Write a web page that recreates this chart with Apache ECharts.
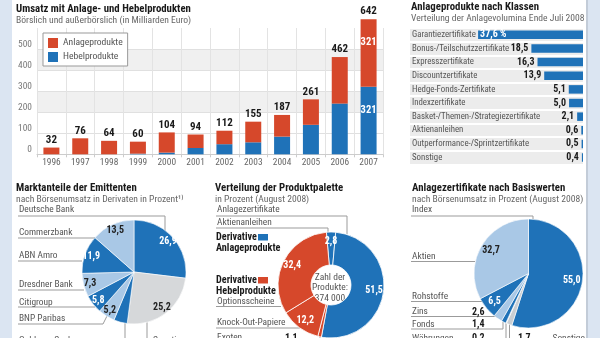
<!DOCTYPE html>
<html><head><meta charset="utf-8">
<script src="https://cdn.jsdelivr.net/npm/echarts@6/dist/echarts.min.js"></script>
<style>html,body{margin:0;padding:0;background:#fff}#c{width:600px;height:338px}</style>
</head><body><div id="c"></div>
<script>
// ---------- data ----------
const years = ['1996','1997','1998','1999','2000','2001','2002','2003','2004','2005','2006','2007'];
const totalVolume  = [32, 76, 64, 60, 104, 94, 112, 155, 187, 261, 462, 642];
const hebelVolume  = [0, 0, 0, 3, 8, 30, 48, 57, 84, 140, 241, 321];
const anlageVolume = [32, 76, 64, 57, 96, 64, 64, 98, 103, 121, 221, 321];
const yTicks = [0, 100, 200, 300, 400, 500];

const classNames = ['Garantiezertifikate','Bonus-/Teilschutzzertifikate','Expresszertifikate','Discountzertifikate',
  'Hedge-Fonds-Zertifikate','Indexzertifikate','Basket-/Themen-/Strategiezertifikate','Aktienanleihen',
  'Outperformance-/Sprintzertifikate','Sonstige'];
const classValues = [37.6, 18.5, 16.3, 13.9, 5.1, 5.0, 2.1, 0.6, 0.5, 0.4];

const issuerNames  = ['Deutsche Bank','Sonstige','Goldman Sachs','BNP Paribas','Citigroup','Dresdner Bank','ABN Amro','Commerzbank'];
const issuerShares = [26.9, 25.2, 4.2, 5.2, 5.8, 7.3, 11.9, 13.5];

const productNames  = ['Aktienanleihen','Anlagezertifikate','Exoten','Knock-Out-Papiere','Optionsscheine'];
const productShares = [2.8, 51.5, 1.1, 12.2, 32.4];
const productCount = '374 000';

const underlyingNames  = ['Index','Sonstige','Währungen','Fonds','Zins','Rohstoffe','Aktien'];
const underlyingShares = [55.0, 1.7, 0.2, 1.4, 2.6, 6.5, 32.7];

// ---------- style ----------
const F = "'Roboto Condensed','Open Sans Condensed',sans-serif";
const BLUE = '#1f72b8', LIGHT = '#a9c8e6', GRAY = '#d6d8da', RED = '#d6482b', LINE = '#9b9b9b';
const TXT = '#555', FS = 9.4;
const fmt = v => v.toFixed(1).replace('.', ',');

const issuerColors = [BLUE, GRAY, BLUE, LIGHT, BLUE, LIGHT, BLUE, LIGHT];
const issuerLabelColors = ['#fff', '#222', '#fff', '#222', '#fff', '#222', '#fff', '#222'];
const productColors = [BLUE, BLUE, RED, RED, RED];
const underlyingColors = [BLUE, '#c9ced3', '#e4e7ea', BLUE, LIGHT, BLUE, LIGHT];
const underlyingInside = [true, false, false, false, false, true, true];
const underlyingInsideColors = ['#fff', '#222', '#222', '#222', '#222', '#fff', '#222'];

// leader-line annotation layout (text x, text centre c, line points)
const issuerLeaders = [
  {x:19, c:210, pts:[[165,231],[165,216],[18,216]]},
  {x:153, c:341, pts:[[147,322],[147,347],[205,347]]},
  {x:19, c:341, pts:[[125,323],[125,347],[18,347]]},
  {x:19, c:319, pts:[[107,316],[103,324],[18,324]]},
  {x:19, c:302.5, pts:[[95,307],[95,307],[18,307]]},
  {x:19, c:285, pts:[[84,290],[84,290],[18,290]]},
  {x:19, c:256, pts:[[82,261],[82,261],[18,261]]},
  {x:19, c:233, pts:[[96,238],[96,238],[18,238]]}
];
const productLeaders = [
  {x:217, c:223, pts:[[328,233],[328,228],[216,228]]},
  {x:217, c:210, pts:[[347,234],[347,216],[216,216]]},
  {x:217, c:338, val:68, pts:[[320,337],[320,343],[216,343]]},
  {x:217, c:323, pts:[[300,328],[300,328],[216,328]]},
  {x:217, c:302, pts:[[281,306.5],[281,306.5],[216,306.5]]}
];
const underlyingLeaders = [
  {x:412, c:210, pts:[[533,219.5],[533,216],[411,216]]},
  {x:518, c:338.5, valFirst:true, pts:[[509.5,324],[509.5,343],[585,343]]},
  {x:412, c:338.5, val:60, pts:[[506,323],[506,343],[411,343]]},
  {x:412, c:324.5, val:60, pts:[[503,322],[503,329],[411,329]]},
  {x:412, c:312, val:60, pts:[[497,318],[497,316.5],[411,316.5]]},
  {x:412, c:297, pts:[[482,301.5],[482,301.5],[411,301.5]]},
  {x:412, c:257, pts:[[475,261.5],[475,261.5],[411,261.5]]}
];

function leaderLabel(cfgs) {
  return {
    show: true, position: 'outside', fontFamily: F, fontSize: FS, color: TXT,
    formatter: p => {
      const c = cfgs[p.dataIndex];
      if (c.valFirst) return '{v|' + fmt(p.value) + '}{s|}{n|' + p.name + '}';
      if (c.val) return '{n|' + p.name + '}{v|' + fmt(p.value) + '}';
      return p.name;
    },
    rich: {
      n: {fontFamily: F, fontSize: FS, color: TXT},
      v: {fontFamily: F, fontSize: 10, fontWeight: 'bold', color: '#1a1a1a'},
      s: {width: 22}
    }
  };
}
function leaderLayout(cfgs) {
  return p => {
    const c = cfgs[p.dataIndex];
    return {x: c.x, y: c.c, align: 'left', verticalAlign: 'middle', labelLinePoints: c.pts};
  };
}
function pieData(names, vals, colors, cfgs) {
  return vals.map((v, i) => {
    const d = {name: names[i], value: v, itemStyle: {color: colors[i]}};
    if (cfgs && cfgs[i].val) d.label = {rich: {n: {width: cfgs[i].val, fontFamily: F, fontSize: FS, color: TXT}}};
    return d;
  });
}
function insideData(names, vals, colors, shows) {
  return vals.map((v, i) => ({
    name: names[i], value: v,
    label: {show: shows ? shows[i] : true, color: colors[i]}
  }));
}
const insideLabel = {show: true, position: 'inside', fontFamily: F, fontSize: 10, fontWeight: 'bold',
  formatter: p => fmt(p.value)};

const chart = echarts.init(document.getElementById('c'));
const titleBase = {padding: 0, itemGap: 0,
  textStyle: {fontFamily: F, fontSize: 10.8, fontWeight: 'bold', color: '#1a1a1a', lineHeight: 12},
  subtextStyle: {fontFamily: F, fontSize: 9.6, color: '#666', lineHeight: 11}};
const boldF = 'bold 10.2px ' + F;

const option = {
  backgroundColor: '#fff',
  animation: false,
  textStyle: {fontFamily: F},
  title: [
    {left: 16, top: 3, text: 'Umsatz mit Anlage- und Hebelprodukten', subtext: 'Börslich und außerbörslich (in Milliarden Euro)'},
    {left: 411, top: 1, text: 'Anlageprodukte nach Klassen', subtext: 'Verteilung der Anlagevolumina Ende Juli 2008'},
    {left: 16, top: 182, text: 'Marktanteile der Emittenten', subtext: 'nach Börsenumsatz in Derivaten in Prozent¹⁾'},
    {left: 215, top: 182, text: 'Verteilung der Produktpalette', subtext: 'in Prozent (August 2008)'},
    {left: 412, top: 182, text: 'Anlagezertifikate nach Basiswerten', subtext: 'nach Börsenumsatz in Prozent (August 2008)'}
  ].map(t => Object.assign({}, titleBase, t)),
  legend: {
    data: ['Anlageprodukte', 'Hebelprodukte'], orient: 'vertical', left: 43, top: 33,
    icon: 'rect', itemWidth: 10, itemHeight: 10, itemGap: 4,
    backgroundColor: '#fff', borderColor: '#999', borderWidth: 1, padding: [5, 5, 4, 5],
    textStyle: {fontFamily: F, fontSize: 9.6, color: TXT}
  },
  grid: [
    {left: 37, top: 28, width: 346, height: 126.3},
    {left: 410, top: 28, width: 173, height: 136.4}
  ],
  xAxis: [
    {type: 'category', gridIndex: 0, data: years,
      axisLine: {lineStyle: {color: '#ccc'}}, axisTick: {show: true, length: 3, lineStyle: {color: '#ccc'}},
      axisLabel: {fontFamily: F, fontSize: FS, color: '#666', margin: 4},
      splitLine: {show: true, interval: 0, lineStyle: {color: '#e3e3e3'}}},
    {type: 'value', gridIndex: 1, inverse: true, min: 0, max: 62, show: false}
  ],
  yAxis: [
    {type: 'value', gridIndex: 0, min: 0, max: 600, interval: 100,
      axisLine: {show: false}, axisTick: {show: false},
      axisLabel: {fontFamily: F, fontSize: FS, color: '#777', verticalAlign: 'bottom', margin: 5,
        formatter: v => yTicks.indexOf(v) >= 0 ? String(v) : ''},
      splitLine: {lineStyle: {color: ['#d8d8d8', '#e0e0e0', '#e0e0e0', '#e0e0e0', '#e0e0e0', '#e0e0e0', 'rgba(0,0,0,0)']}},
      splitArea: {show: true, areaStyle: {color: ['#fff', '#fff', '#f0f0f0', '#fff', '#f0f0f0', '#fff']}}},
    {type: 'category', gridIndex: 1, inverse: true, data: classNames,
      axisLine: {show: false, onZero: false}, axisTick: {show: false},
      axisLabel: {inside: true, margin: 2, fontFamily: F, fontSize: 8.8, color: TXT},
      splitLine: {show: true, interval: 0, lineStyle: {color: '#fff', width: 2}},
      splitArea: {show: true, interval: 0, areaStyle: {color: ['#ececec']}}}
  ],
  graphic: [
    {type: 'rect', shape: {x: 0, y: 0, width: 12, height: 338}, style: {fill: '#dbe5f2'}, silent: true},
    {type: 'rect', shape: {x: 586, y: 0, width: 14, height: 338}, style: {fill: '#dbe5f2'}, silent: true},
    {type: 'rect', shape: {x: 586, y: 0, width: 2, height: 338}, style: {fill: '#c3ccd8'}, silent: true},
    {type: 'text', x: 216, y: 237, style: {text: 'Derivative', font: boldF, fill: '#1a1a1a', verticalAlign: 'middle'}},
    {type: 'rect', shape: {x: 258, y: 234, width: 10, height: 6.5}, style: {fill: BLUE}},
    {type: 'text', x: 216, y: 248, style: {text: 'Anlageprodukte', font: boldF, fill: '#1a1a1a', verticalAlign: 'middle'}},
    {type: 'text', x: 216, y: 280, style: {text: 'Derivative', font: boldF, fill: '#1a1a1a', verticalAlign: 'middle'}},
    {type: 'rect', shape: {x: 258, y: 277, width: 10, height: 6.5}, style: {fill: RED}},
    {type: 'text', x: 216, y: 291, style: {text: 'Hebelprodukte', font: boldF, fill: '#1a1a1a', verticalAlign: 'middle'}},
    {type: 'text', x: 330, y: 288, style: {text: 'Zahl der\nProdukte:\n' + productCount, font: '9.5px ' + F, fill: TXT,
      align: 'center', verticalAlign: 'middle', lineHeight: 10.5}}
  ],
  series: [
    // ---- top-left stacked bars ----
    {name: 'Hebelprodukte', type: 'bar', stack: 'v', xAxisIndex: 0, yAxisIndex: 0, barWidth: 16, clip: false,
      itemStyle: {color: BLUE},
      data: hebelVolume.map((v, i) => i === years.length - 1
        ? {value: v, label: {show: true, position: 'insideTop', offset: [0, 13], color: '#fff', fontWeight: 'bold', fontSize: 10.5, fontFamily: F}}
        : v)},
    {name: 'Anlageprodukte', type: 'bar', stack: 'v', xAxisIndex: 0, yAxisIndex: 0, barWidth: 16, clip: false,
      itemStyle: {color: RED},
      data: anlageVolume.map((v, i) => i === years.length - 1
        ? {value: v, label: {show: true, position: 'insideTop', offset: [0, 13], color: '#fff', fontWeight: 'bold', fontSize: 10.5, fontFamily: F}}
        : v)},
    {name: 'Gesamt', type: 'bar', xAxisIndex: 0, yAxisIndex: 0, barWidth: 16, barGap: '-100%', clip: false, silent: true,
      itemStyle: {color: 'rgba(0,0,0,0)'},
      label: {show: true, position: 'top', distance: 2, fontFamily: F, fontSize: 11, fontWeight: 'bold', color: '#1a1a1a'},
      data: totalVolume},
    // ---- top-right horizontal bars ----
    {name: 'Klassen', type: 'bar', xAxisIndex: 1, yAxisIndex: 1, barWidth: 8.5,
      itemStyle: {color: BLUE},
      label: {show: true, position: 'left', distance: 3, fontFamily: F, fontSize: 10, fontWeight: 'bold', color: '#1a1a1a',
        formatter: p => fmt(p.value)},
      data: classValues.map((v, i) => i === 0
        ? {value: v, label: {position: 'insideLeft', color: '#fff', distance: 2, formatter: p => fmt(p.value) + ' %'}}
        : v)},
    // ---- bottom-left pie ----
    {name: 'Emittenten', type: 'pie', center: [134, 272], radius: 52, startAngle: 90, clockwise: true,
      avoidLabelOverlap: false, silent: true,
      itemStyle: {borderColor: '#fff', borderWidth: 0.6},
      label: leaderLabel(issuerLeaders),
      labelLine: {show: true, length: 4, length2: 4, smooth: false, lineStyle: {color: LINE, width: 1}},
      labelLayout: leaderLayout(issuerLeaders),
      data: pieData(issuerNames, issuerShares, issuerColors, issuerLeaders)},
    {name: 'EmittentenWerte', type: 'pie', center: [134, 272], radius: [33, 52], startAngle: 90, silent: true,
      itemStyle: {color: 'rgba(0,0,0,0)'}, label: insideLabel, labelLine: {show: false},
      data: insideData(issuerNames, issuerShares, issuerLabelColors)},
    // ---- bottom-middle donut ----
    {name: 'Produkte', type: 'pie', center: [331, 285], radius: [20, 53], startAngle: 95, clockwise: true,
      avoidLabelOverlap: false, silent: true,
      itemStyle: {borderColor: '#fff', borderWidth: 0.8},
      label: leaderLabel(productLeaders),
      labelLine: {show: true, length: 4, length2: 4, smooth: false, lineStyle: {color: LINE, width: 1}},
      labelLayout: leaderLayout(productLeaders),
      data: pieData(productNames, productShares, productColors, productLeaders)},
    {name: 'ProdukteWerte', type: 'pie', center: [331, 285], radius: [28, 53], startAngle: 95, silent: true,
      itemStyle: {color: 'rgba(0,0,0,0)'}, label: insideLabel, labelLine: {show: false},
      data: insideData(productNames, productShares, ['#fff', '#fff', '#fff', '#fff', '#fff'], [true, true, false, true, true])},
    // ---- bottom-right pie ----
    {name: 'Basiswerte', type: 'pie', center: [528.5, 273.5], radius: 54.5, startAngle: 90, clockwise: true,
      avoidLabelOverlap: false, silent: true,
      itemStyle: {borderColor: '#fff', borderWidth: 0.6},
      label: leaderLabel(underlyingLeaders),
      labelLine: {show: true, length: 4, length2: 4, smooth: false, lineStyle: {color: LINE, width: 1}},
      labelLayout: leaderLayout(underlyingLeaders),
      data: pieData(underlyingNames, underlyingShares, underlyingColors, underlyingLeaders)},
    {name: 'BasiswerteWerte', type: 'pie', center: [528.5, 273.5], radius: [27, 54.5], startAngle: 90, silent: true,
      itemStyle: {color: 'rgba(0,0,0,0)'}, label: insideLabel, labelLine: {show: false},
      data: insideData(underlyingNames, underlyingShares, underlyingInsideColors, underlyingInside)}
  ]
};
chart.setOption(option);
</script>
</body></html>
